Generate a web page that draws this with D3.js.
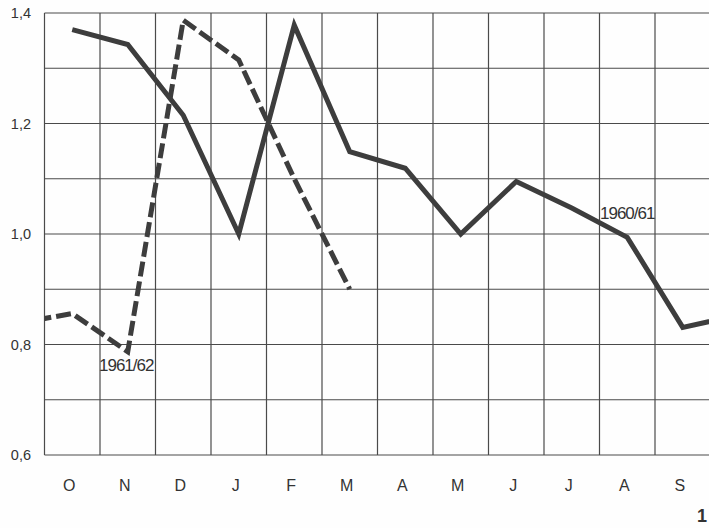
<!DOCTYPE html>
<html><head><meta charset="utf-8">
<script src="https://cdn.jsdelivr.net/npm/d3@7"></script>
<style>
html,body{margin:0;padding:0;background:#fefefe;}
svg{display:block;}
text{font-family:"Liberation Sans",Arial,sans-serif;fill:#333;}
</style></head>
<body><svg id="c" width="709" height="528"></svg>
<script>
// month labels (October .. September)
const months = ["O","N","D","J","F","M","A","M","J","J","A","S"];
// y tick values
const yTicks = [0.6, 0.8, 1.0, 1.2, 1.4];
const yGrid = [0.6,0.7,0.8,0.9,1.0,1.1,1.2,1.3,1.4];
// 1960/61 series: starts at October (index 0); last value = following October (runs off the edge)
const solidStart = 0;
const solid1960 = [1.37,1.343,1.215,1.0,1.378,1.149,1.119,1.0,1.095,1.047,0.994,0.831,0.853];
// 1961/62 series: starts at the preceding September (index -1) and ends in March
const dashedStart = -1;
const dashed1961 = [0.838,0.856,0.787,1.387,1.315,1.10,0.90];
const labels = [{text:"1960/61", series:"solid"},{text:"1961/62", series:"dashed"}];

(function(){
const svg = d3.select("#c");
const mLeft = 44.5, mRight = 710.5, mTop = 13, mBottom = 455;
const x = d3.scaleLinear().domain([-0.5, 11.5]).range([mLeft, mRight]);
const y = d3.scaleLinear().domain([0.6, 1.4]).range([mBottom, mTop]);

const gridColor = "#4a4a4a";
// vertical grid
svg.append("g").selectAll("line").data(d3.range(0, 13)).join("line")
  .attr("x1", d => x(d - 0.5)).attr("x2", d => x(d - 0.5))
  .attr("y1", mTop).attr("y2", mBottom)
  .attr("stroke", gridColor).attr("stroke-width", 1.2);
// horizontal grid
svg.append("g").selectAll("line").data(yGrid).join("line")
  .attr("x1", mLeft).attr("x2", 709)
  .attr("y1", d => y(d)).attr("y2", d => y(d))
  .attr("stroke", gridColor).attr("stroke-width", 1.2);

// y labels
const fmt = d => d.toFixed(1).replace(".", ",");
svg.append("g").selectAll("text").data(yTicks).join("text")
  .attr("x", 31).attr("y", d => y(d)).attr("dy", "0.36em")
  .attr("text-anchor", "end").attr("font-size", 14.5).text(fmt);

// x labels
svg.append("g").selectAll("text").data(months).join("text")
  .attr("x", (d, i) => x(i) - 3).attr("y", 485).attr("dy", "0.36em")
  .attr("text-anchor", "middle").attr("font-size", 16).text(d => d);

// clip
svg.append("clipPath").attr("id", "clip").append("rect")
  .attr("x", mLeft).attr("y", 0).attr("width", 709 - mLeft).attr("height", 528);

const line = d3.line().x(d => x(d.i)).y(d => y(d.v));
const solidPts = solid1960.map((v, k) => ({i: k + solidStart, v}));
const dashedPts = dashed1961.map((v, k) => ({i: k + dashedStart, v}));

const g = svg.append("g").attr("clip-path", "url(#clip)");
g.append("path").datum(dashedPts).attr("d", line)
  .attr("fill", "none").attr("stroke", "#3d3d3d").attr("stroke-width", 5)
  .attr("stroke-dasharray", "15,5").attr("stroke-linejoin", "miter");
g.append("path").datum(solidPts).attr("d", line)
  .attr("fill", "none").attr("stroke", "#3d3d3d").attr("stroke-width", 5)
  .attr("stroke-linejoin", "miter");

// series labels
svg.append("text").attr("x", 600).attr("y", 219).attr("font-size", 17)
  .attr("letter-spacing", -1).text(labels[0].text);
svg.append("text").attr("x", 99).attr("y", 371).attr("font-size", 17)
  .attr("letter-spacing", -1).text(labels[1].text);

// figure number
svg.append("text").attr("x", 697).attr("y", 522).attr("font-size", 18)
  .attr("font-weight", "bold").attr("fill", "#222").text("1");
})();
</script></body></html>
